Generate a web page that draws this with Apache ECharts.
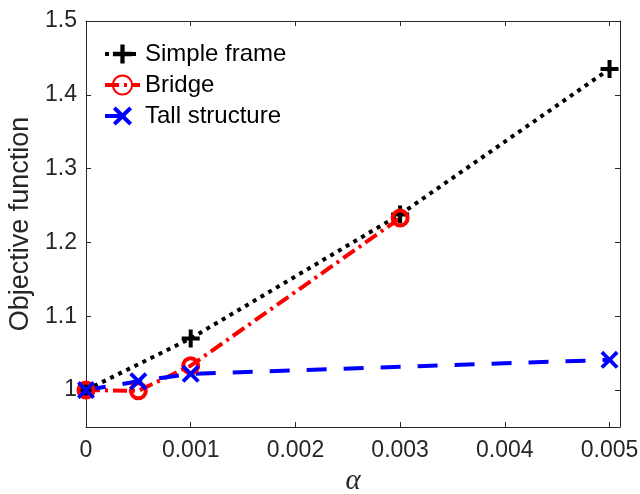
<!DOCTYPE html>
<html>
<head>
<meta charset="utf-8">
<script src="https://cdn.jsdelivr.net/npm/echarts@6/dist/echarts.min.js"></script>
<style>
  html, body { margin: 0; padding: 0; background: #fff; }
  #chart { width: 640px; height: 494px; }
</style>
</head>
<body>
<div id="chart"></div>
<script>
// values
const simpleAlpha = [0, 0.001, 0.003, 0.005];
const simpleObj = [1.0, 1.07, 1.238, 1.435];
const bridgeAlpha = [0, 0.0005, 0.001, 0.003];
const bridgeObj = [1.0, 0.999, 1.033, 1.233];
const tallAlpha = [0, 0.0005, 0.001, 0.005];
const tallObj = [1.0, 1.012, 1.022, 1.041];
const xTicks = [0, 0.001, 0.002, 0.003, 0.004, 0.005];
const yTicks = [1.0, 1.1, 1.2, 1.3, 1.4, 1.5];

const pairs = (xs, ys) => xs.map((x, i) => [x, ys[i]]);

const axisColor = "#262626";
const font = "'Liberation Sans', Arial, sans-serif";
const plusPath = "path://M7,0 H11 V7 H18 V11 H11 V18 H7 V11 H0 V7 H7 Z";
const crossPath = "path://M0,3 L3,0 L10,7 L17,0 L20,3 L13,10 L20,17 L17,20 L10,13 L3,20 L0,17 L7,10 Z";

let chart = echarts.init(document.getElementById("chart"));

// frame axes (top / right) only carry inward ticks, like a boxed plot
function frameAxis(extra) {
    return Object.assign({
        type: "value",
        axisLine: { show: true, onZero: false, lineStyle: { color: axisColor, width: 1 } },
        axisTick: { show: true, inside: true, length: 5, lineStyle: { color: axisColor } },
        axisLabel: { show: false },
        splitLine: { show: false }
    }, extra);
}

let option = {
    animation: false,
    backgroundColor: "#fff",
    grid: { left: 86, right: 20, top: 21, bottom: 67, containLabel: false, outerBoundsMode: "none" },
    legend: {
        orient: "vertical",
        left: 98,
        top: 37,
        itemWidth: 35,
        itemHeight: 24,
        itemGap: 7,
        lineStyle: { width: 4 },
        textStyle: { fontFamily: font, fontSize: 24, color: "#000" },
        data: ["Simple frame", "Bridge", "Tall structure"]
    },
    xAxis: [
        frameAxis({
            min: 0, max: 0.0051,
            name: "α",
            nameLocation: "middle",
            nameGap: 37,
            nameTextStyle: { fontFamily: "'Liberation Serif', 'DejaVu Serif', serif", fontStyle: "italic", fontSize: 29, color: axisColor },
            axisTick: { show: true, inside: true, length: 5, lineStyle: { color: axisColor }, customValues: xTicks },
            axisLabel: {
                show: true, margin: 12, customValues: xTicks,
                fontFamily: font, fontSize: 23, color: axisColor,
                formatter: v => (v === 0 ? "0" : v.toFixed(3))
            }
        }),
        frameAxis({
            min: 0, max: 0.0051, position: "top",
            axisTick: { show: true, inside: true, length: 5, lineStyle: { color: axisColor }, customValues: xTicks }
        })
    ],
    yAxis: [
        frameAxis({
            min: 0.95, max: 1.5,
            name: "Objective function",
            nameLocation: "middle",
            nameGap: 48,
            nameTextStyle: { fontFamily: font, fontSize: 27, color: axisColor },
            axisTick: { show: true, inside: true, length: 5, lineStyle: { color: axisColor }, customValues: yTicks },
            axisLabel: {
                show: true, margin: 9, customValues: yTicks,
                fontFamily: font, fontSize: 23, color: axisColor,
                formatter: v => (Math.abs(v - 1) < 1e-9 ? "1" : v.toFixed(1))
            }
        }),
        frameAxis({
            min: 0.95, max: 1.5, position: "right",
            axisTick: { show: true, inside: true, length: 5, lineStyle: { color: axisColor }, customValues: yTicks }
        })
    ],
    series: [
        {
            name: "Simple frame",
            type: "line",
            data: pairs(simpleAlpha, simpleObj),
            symbol: plusPath,
            symbolSize: 18,
            lineStyle: { color: "#000", width: 4, type: [4, 5], cap: "butt" },
            itemStyle: { color: "#000" }
        },
        {
            name: "Bridge",
            type: "line",
            data: pairs(bridgeAlpha, bridgeObj),
            symbol: "circle",
            symbolSize: 15,
            lineStyle: { color: "#ff0000", width: 4, type: [14, 5, 3, 5], cap: "butt" },
            itemStyle: { color: "transparent", borderColor: "#ff0000", borderWidth: 4 }
        },
        {
            name: "Tall structure",
            type: "line",
            data: pairs(tallAlpha, tallObj),
            symbol: crossPath,
            symbolSize: 18,
            lineStyle: { color: "#0000ff", width: 4, type: [20, 17], cap: "butt" },
            itemStyle: { color: "#0000ff" }
        }
    ]
};

chart.setOption(option);
</script>
</body>
</html>
